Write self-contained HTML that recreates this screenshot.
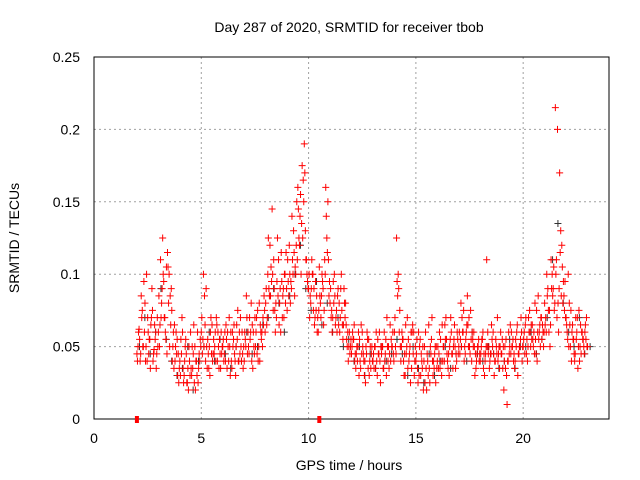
<!DOCTYPE html>
<html><head><meta charset="utf-8"><style>
html,body{margin:0;padding:0;background:#fff}
svg{display:block;font-family:"Liberation Sans",sans-serif}
</style></head><body>
<svg id="chart" width="640" height="480" viewBox="0 0 640 480" xmlns="http://www.w3.org/2000/svg">
<rect width="640" height="480" fill="#fff"/>
<text x="349" y="32" font-size="14" text-anchor="middle">Day 287 of 2020, SRMTID for receiver tbob</text>
<text x="349" y="470" font-size="14" text-anchor="middle">GPS time / hours</text>
<text x="19" y="238" font-size="14" text-anchor="middle" transform="rotate(-90 19 238)">SRMTID / TECUs</text>
<g id="grid"></g>
<g id="marks"></g>
<g id="axes"></g>
</svg>
<script>
const xTicks=[0,5,10,15,20];
const yTicks=[0,0.05,0.1,0.15,0.2,0.25];
const yTickLabels=["0","0.05","0.1","0.15","0.2","0.25"];
const redAStart=2.0, redAStep=0.1;
const redA=[.045,.062,.085,.05,.04,.07,.055,.09,.048,.035,
.06,.11,.125,.07,.045,.1,.09,.06,.05,.03,
.04,.07,.03,.045,.02,.06,.035,.05,.03,.045,
.06,.1,.04,.055,.03,.065,.045,.07,.05,.035,
.05,.06,.035,.07,.04,.055,.03,.075,.045,.06,
.04,.085,.05,.06,.035,.07,.045,.08,.055,.065,
.08,.1,.12,.145,.09,.07,.11,.06,.085,.1,
.075,.12,.09,.13,.1,.16,.14,.175,.19,.11,
.09,.08,.1,.07,.06,.105,.085,.065,.16,.15,
.08,.06,.1,.075,.065,.09,.055,.07,.05,.06,
.045,.055,.035,.05,.04,.06,.03,.045,.055,.035,
.04,.05,.03,.06,.045,.035,.055,.04,.065,.05,
.06,.125,.09,.04,.055,.03,.07,.045,.035,.06,
.04,.025,.055,.035,.05,.02,.065,.045,.03,.05,
.04,.06,.03,.05,.07,.035,.055,.045,.065,.04,
.05,.08,.06,.045,.085,.05,.04,.06,.035,.05,
.04,.055,.03,.11,.05,.045,.06,.04,.07,.035,
.045,.02,.055,.04,.065,.05,.035,.06,.045,.07,
.05,.065,.04,.075,.055,.06,.045,.085,.05,.065,
.08,.1,.06,.11,.09,.215,.2,.17,.12,.085,
.07,.1,.05,.065,.04,.06,.075,.045,.055,.065,.05];
const redBStart=2.05, redBStep=0.1;
const redB=[.05,.04,.075,.06,.1,.045,.065,.04,.055,.07,
.05,.08,.095,.055,.105,.085,.04,.065,.045,.025,
.055,.035,.05,.025,.04,.03,.065,.04,.025,.055,
.045,.085,.05,.035,.07,.045,.06,.04,.055,.045,
.04,.065,.05,.03,.06,.045,.065,.04,.05,.035,
.055,.045,.07,.04,.05,.06,.04,.065,.05,.075,
.065,.09,.105,.075,.06,.125,.08,.095,.07,.115,
.095,.08,.11,.085,.15,.125,.1,.165,.13,.095,
.07,.11,.09,.075,.06,.08,.095,.11,.125,.085,
.07,.095,.065,.085,.06,.075,.09,.065,.04,.05,
.06,.04,.05,.03,.065,.045,.025,.055,.04,.05,
.035,.06,.045,.025,.05,.04,.07,.035,.055,.045,
.05,.085,.075,.06,.03,.045,.055,.025,.065,.04,
.055,.03,.045,.02,.06,.04,.025,.07,.035,.05,
.035,.055,.04,.065,.045,.03,.06,.05,.035,.055,
.045,.07,.04,.06,.05,.075,.055,.03,.045,.04,
.05,.035,.045,.06,.04,.055,.03,.05,.045,.06,
.035,.05,.01,.045,.06,.04,.055,.03,.05,.04,
.06,.045,.07,.05,.055,.08,.04,.06,.07,.05,
.07,.09,.05,.1,.075,.11,.06,.13,.08,.095,
.06,.08,.04,.055,.07,.035,.05,.06,.045,.07];
const redCStart=2.025, redCStep=0.1;
const redC=[.04,.055,.07,.095,.05,.06,.035,.075,.065,.045,
.085,.07,.1,.06,.115,.05,.075,.035,.06,.045,
.03,.06,.04,.025,.05,.035,.045,.02,.06,.04,
.07,.05,.09,.045,.06,.04,.05,.065,.035,.06,
.055,.04,.06,.05,.035,.065,.05,.04,.07,.045,
.06,.07,.045,.08,.06,.05,.075,.04,.06,.085,
.09,.125,.085,.1,.075,.095,.065,.115,.09,.08,
.11,.1,.14,.115,.12,.145,.155,.125,.17,.1,
.1,.09,.075,.095,.07,.085,.1,.075,.14,.11,
.09,.07,.085,.06,.08,.1,.065,.08,.06,.045,
.05,.065,.045,.06,.035,.05,.04,.06,.03,.045,
.045,.035,.055,.04,.05,.06,.03,.05,.04,.06,
.07,.095,.06,.05,.04,.065,.035,.05,.06,.03,
.045,.06,.03,.05,.025,.045,.035,.055,.04,.025,
.05,.035,.065,.04,.055,.045,.07,.035,.05,.06,
.06,.05,.075,.055,.065,.045,.06,.05,.04,.055,
.045,.06,.04,.05,.035,.065,.045,.055,.04,.05,
.055,.04,.03,.06,.045,.055,.04,.065,.05,.06,
.055,.07,.05,.06,.065,.045,.075,.055,.07,.06,
.065,.085,.075,.09,.105,.1,.08,.115,.105,.075,
.065,.05,.075,.055,.045,.07,.04,.06,.05,.055];
const redDStart=2.075, redDStep=0.1;
const redD=[.06,.045,.05,.08,.04,.055,.07,.045,.06,.05,
.065,.09,.07,.105,.08,.065,.05,.04,.055,.035,
.045,.025,.055,.035,.03,.05,.025,.04,.035,.05,
.055,.065,.035,.05,.045,.055,.04,.06,.045,.05,
.045,.055,.04,.06,.05,.04,.055,.06,.04,.05,
.05,.06,.055,.065,.045,.07,.05,.06,.07,.06,
.07,.085,.095,.11,.08,.085,.09,.07,.1,.09,
.085,.095,.1,.105,.11,.12,.135,.15,.11,.09,
.085,.1,.065,.085,.075,.07,.09,.1,.115,.095,
.075,.08,.07,.09,.07,.065,.08,.055,.05,.055,
.055,.045,.04,.055,.045,.04,.05,.035,.05,.04,
.05,.04,.045,.05,.035,.045,.05,.045,.05,.04,
.045,.1,.05,.055,.045,.05,.04,.06,.045,.05,
.035,.05,.04,.04,.035,.03,.05,.04,.045,.035,
.045,.04,.05,.055,.04,.05,.045,.055,.045,.045,
.055,.06,.05,.065,.07,.055,.05,.045,.05,.045,
.055,.045,.05,.045,.045,.05,.04,.045,.05,.045,
.05,.035,.04,.05,.05,.045,.05,.045,.055,.05,
.045,.055,.06,.065,.05,.055,.06,.065,.055,.06,
.06,.075,.065,.085,.08,.07,.09,.085,.095,.07,
.055,.065,.06,.045,.055,.05,.065,.055,.06,.05];
const blackStart=2.12, blackStep=0.25;
const black=[.05,.07,.045,.06,.09,.055,.04,.03,.035,.05,.02,.04,
.05,.06,.04,.055,.045,.035,.05,.04,.06,.045,.05,.065,
.07,.09,.08,.06,.085,.1,.12,.09,.075,.095,.065,.08,
.06,.07,.05,.055,.04,.05,.03,.045,.035,.05,.04,.045,
.055,.045,.03,.05,.035,.025,.045,.03,.04,.05,.035,.045,
.05,.04,.06,.045,.04,.05,.045,.035,.04,.055,.035,.05,
.05,.06,.045,.055,.07,.11,.135,.08,.06,.05,.07,.045,.05];
const gapMarks=[2.0,10.5];

const L=94,R=609,T=57,B=419,XMAX=24,YMAX=0.25;
const xs=v=>L+v/XMAX*(R-L);
const ys=v=>B-v/YMAX*(B-T);
const NS="http://www.w3.org/2000/svg";
function mk(tag,parent){const e=document.createElementNS(NS,tag);parent.appendChild(e);return e;}
const grid=document.getElementById('grid'),marks=document.getElementById('marks'),axes=document.getElementById('axes');

xTicks.forEach(t=>{
  const x=xs(t);
  if(t>0){const g=mk('line',grid);
  
  
  g.setAttribute('x1',x);g.setAttribute('x2',x);g.setAttribute('y1',T);g.setAttribute('y2',B);
  g.setAttribute('stroke','#a0a0a0');g.setAttribute('stroke-dasharray','2,3');}
  const tx=mk('text',axes);
  
  
  tx.setAttribute('x',x);tx.setAttribute('y',443);tx.setAttribute('font-size','14');tx.setAttribute('text-anchor','middle');
  tx.textContent=t;
});
yTicks.forEach((t,i)=>{
  const y=ys(t);
  if(t>0&&t<YMAX){const g=mk('line',grid);
  
  
  g.setAttribute('x1',L);g.setAttribute('x2',R);g.setAttribute('y1',y);g.setAttribute('y2',y);
  g.setAttribute('stroke','#a0a0a0');g.setAttribute('stroke-dasharray','2,3');}
  const tx=mk('text',axes);
  
  
  tx.setAttribute('x',80);tx.setAttribute('y',y+5);tx.setAttribute('font-size','14');tx.setAttribute('text-anchor','end');
  tx.textContent=yTickLabels[i];
});
function plus(x,y,col){
  const p=mk('path',marks);
  
  
  p.setAttribute('d',`M${x-3.5},${y}H${x+3.5}M${x},${y-3.5}V${y+3.5}`);
  p.setAttribute('stroke',col);p.setAttribute('stroke-width','1');p.setAttribute('fill','none');
}
black.forEach((v,i)=>plus(xs(blackStart+i*blackStep),ys(v),'#333'));
redA.forEach((v,i)=>plus(xs(redAStart+i*redAStep),ys(v),'#f00'));
redB.forEach((v,i)=>plus(xs(redBStart+i*redBStep),ys(v),'#f00'));
redC.forEach((v,i)=>plus(xs(redCStart+i*redCStep),ys(v),'#f00'));
redD.forEach((v,i)=>plus(xs(redDStart+i*redDStep),ys(v),'#f00'));
const fr=mk('rect',axes);


fr.setAttribute('x',L);fr.setAttribute('y',T);fr.setAttribute('width',R-L);fr.setAttribute('height',B-T);
fr.setAttribute('fill','none');fr.setAttribute('stroke','#000');
gapMarks.forEach(g=>{
  const r=mk('rect',axes);
  
  
  r.setAttribute('x',xs(g)-2);r.setAttribute('y',B-3);r.setAttribute('width',4);r.setAttribute('height',7);
  r.setAttribute('fill','#f00');
});
</script>
</body></html>
